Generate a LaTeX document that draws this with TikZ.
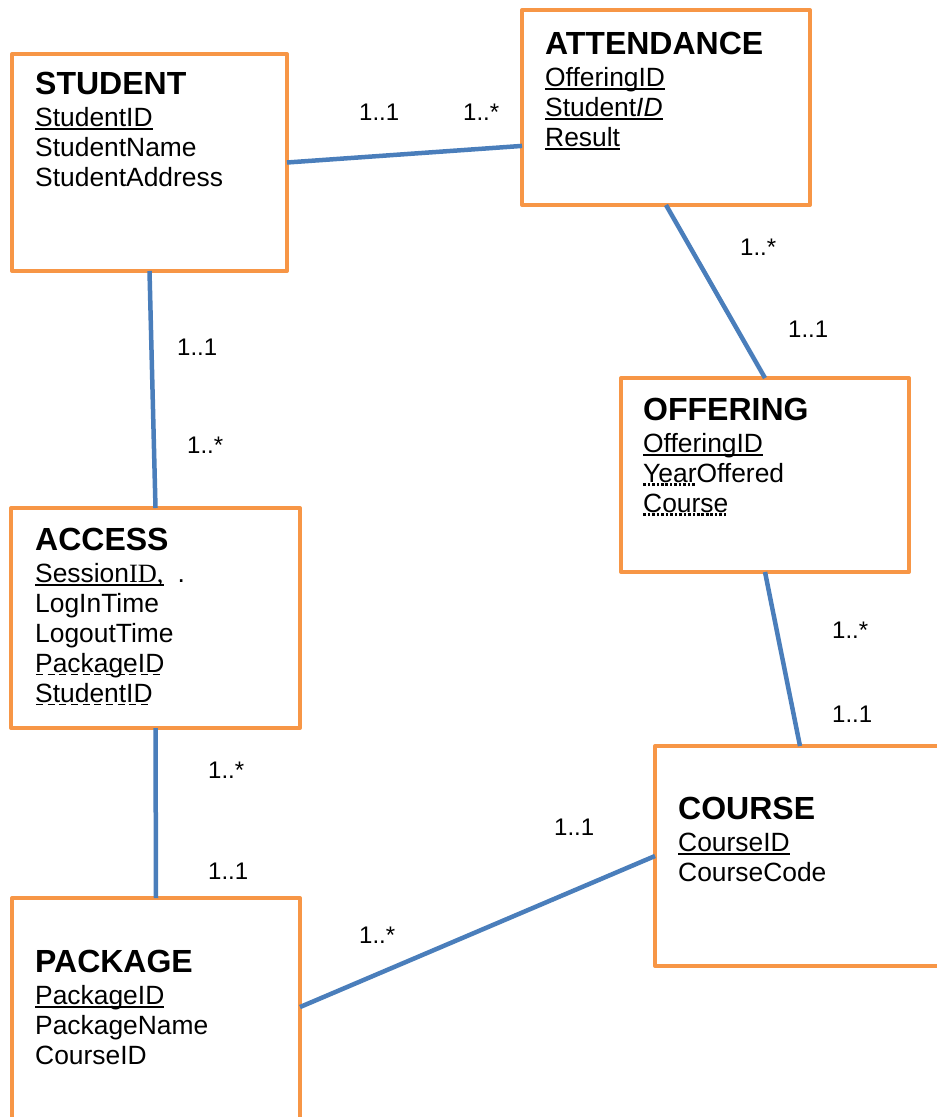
\documentclass[tikz,border=0pt]{standalone}
\usepackage{fontspec}
\setmainfont{Liberation Sans}
\newfontfamily\idserif{Liberation Serif}
\usetikzlibrary{calc}
\usetikzlibrary{positioning}
\definecolor{boxorange}{HTML}{F79646}
\definecolor{linkblue}{HTML}{4A7EBB}
\newcommand{\enttitle}[1]{{\bfseries\fontsize{32}{32}\selectfont #1}\\[2pt]}
% underlines: solid, dashed, dotted
\newcommand{\solidul}[1]{\setbox0=\hbox{#1}\rlap{\vrule height -1.6pt depth 3.6pt width \wd0}\box0}
\newcommand{\dashul}[1]{\setbox0=\hbox{#1}\rlap{\hbox to \wd0{\xleaders\hbox to 11pt{\vrule height -1.8pt depth 3.4pt width 7pt\hfil}\hfill}}\box0}
\newcommand{\dotul}[1]{\setbox0=\hbox{#1}\rlap{\hbox to \wd0{\xleaders\hbox to 4.4pt{\vrule height -1.4pt depth 4.2pt width 2.6pt\hfil}\hfill}}\box0}

\begin{document}
\begin{tikzpicture}[x=1pt,y=-1pt,
    entity/.style={draw=boxorange, line width=4pt, line join=round, fill=white, anchor=north west, inner sep=0pt, outer sep=0pt},
    attrs/.style={anchor=base west, align=left, inner sep=0pt, font=\fontsize{26.4}{30}\selectfont},
    card/.style={anchor=base west, inner sep=0pt, font=\fontsize{24}{28}\selectfont},
    link/.style={draw=linkblue, line width=4.5pt}]
        \useasboundingbox (0,0) rectangle (937,1117);

        % entity boxes
        \node[entity, minimum width=275pt, minimum height=217pt] (student) at (12,54) {};
        \node[entity, minimum width=288pt, minimum height=195pt] (attendance) at (522,10) {};
        \node[entity, minimum width=288pt, minimum height=194pt] (offering) at (621,378) {};
        \node[entity, minimum width=289pt, minimum height=220pt] (access) at (11,508) {};
        \node[entity, minimum width=288pt, minimum height=232pt] (package) at (12,898) {};
        \node[entity, minimum width=290pt, minimum height=220pt] (course) at (655,746) {};

        % attributes (base = last line)
        \node[attrs] (studenttxt) at ($(student.north west)+(23,132)$)
            {\enttitle{STUDENT}\solidul{StudentID}\\StudentName\\StudentAddress};
        \node[attrs] (attendancetxt) at ($(attendance.north west)+(23,136)$)
            {\enttitle{ATTENDANCE}\solidul{OfferingID}\\\solidul{Student\textit{ID}}\\\solidul{Result}};
        \node[attrs] (offeringtxt) at ($(offering.north west)+(22,134)$)
            {\enttitle{OFFERING}\solidul{OfferingID}\\\dotul{Year}Offered\\\dotul{Course}};
        \node[attrs] (accesstxt) at ($(access.north west)+(24,194)$)
            {\enttitle{ACCESS}\solidul{Session{\idserif ID,}}\hspace{14pt}.\\LogInTime\\LogoutTime\\\dashul{PackageID}\\\dashul{StudentID}};
        \node[attrs] (packagetxt) at ($(package.north west)+(23,166)$)
            {\enttitle{PACKAGE}\solidul{PackageID}\\PackageName\\CourseID};
        \node[attrs] (coursetxt) at ($(course.north west)+(23,135)$)
            {\enttitle{COURSE}\solidul{CourseID}\\CourseCode};

        % relationships
        \draw[link] (student.east) -- ($(attendance.north west)!0.697!(attendance.south west)$);
        \draw[link] (student.south) -- (access.north);
        \draw[link] (attendance.south) -- (offering.north);
        \draw[link] (offering.south) -- (course.north);
        \draw[link] (access.south) -- (package.north);
        \draw[link] ($(package.north east)!0.47!(package.south east)$) -- (course.west);

        % cardinalities
        \node[card] (sa1) at (359,120) {1..1};
        \node[card] (sa2) at (463,120) {1..*};
        \node[card] (ao1) at (740,255) {1..*};
        \node[card] (ao2) at (788,337) {1..1};
        \node[card] (sc1) at (177,355) {1..1};
        \node[card] (sc2) at (187,453) {1..*};
        \node[card] (oc1) at (832,638) {1..*};
        \node[card] (oc2) at (832,722) {1..1};
        \node[card] (ap1) at (208,778) {1..*};
        \node[card] (ap2) at (208,879) {1..1};
        \node[card] (pc1) at (554,835) {1..1};
        \node[card] (pc2) at (359,943) {1..*};
\end{tikzpicture}
\end{document}
